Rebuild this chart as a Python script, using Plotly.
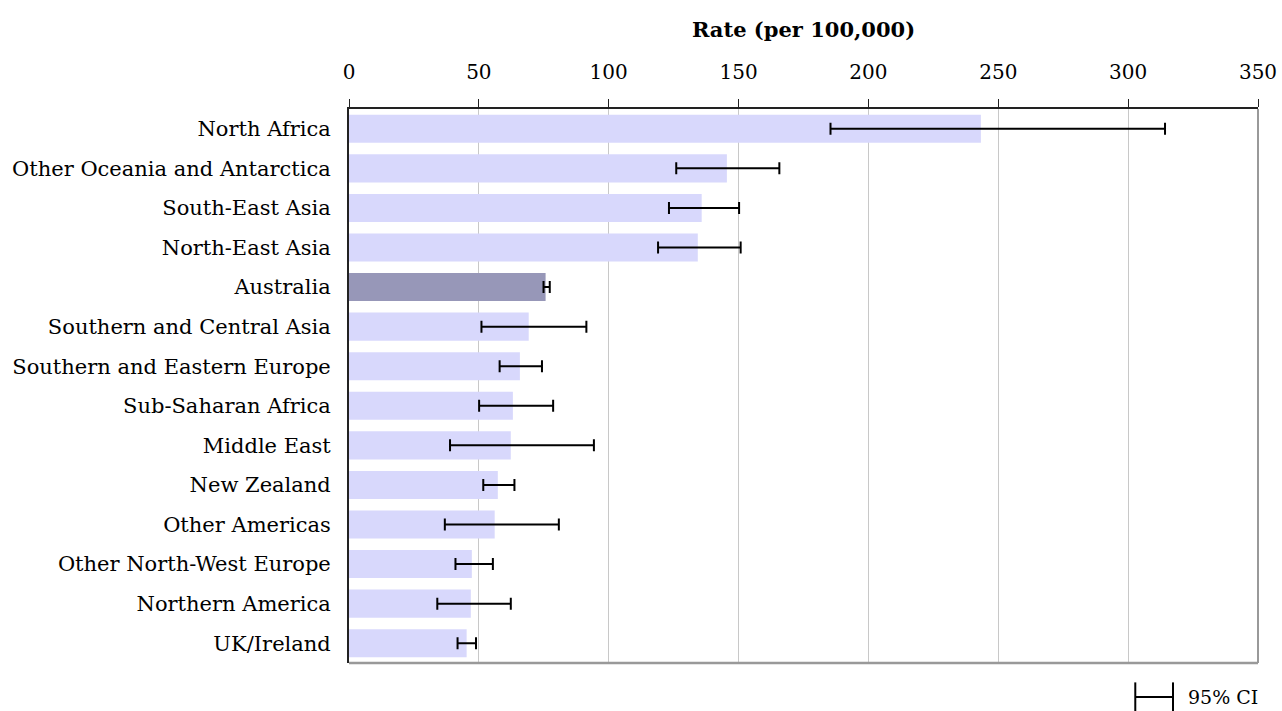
import plotly.graph_objects as go

# Rates per 100,000 by region of birth, with 95% confidence limits
regions = [
    "North Africa",
    "Other Oceania and Antarctica",
    "South-East Asia",
    "North-East Asia",
    "Australia",
    "Southern and Central Asia",
    "Southern and Eastern Europe",
    "Sub-Saharan Africa",
    "Middle East",
    "New Zealand",
    "Other Americas",
    "Other North-West Europe",
    "Northern America",
    "UK/Ireland",
]
rate = [243.3, 145.5, 135.8, 134.3, 75.7, 69.2, 65.8, 63.1, 62.3, 57.3, 56.1, 47.3, 46.9, 45.3]
ci_low = [185.4, 126.0, 123.2, 119.0, 74.9, 51.0, 58.0, 50.1, 38.9, 51.7, 36.9, 41.0, 34.0, 41.8]
ci_high = [314.2, 165.7, 150.2, 150.8, 77.3, 91.4, 74.3, 78.6, 94.3, 63.7, 80.8, 55.4, 62.3, 48.9]
x_ticks = [0, 50, 100, 150, 200, 250, 300, 350]

LIGHT = "#d8d8fc"
DARK = "#9797b8"
FONT = "DejaVu Serif"

colors = [DARK if r == "Australia" else LIGHT for r in regions]
err_plus = [h - v for h, v in zip(ci_high, rate)]
err_minus = [v - l for v, l in zip(rate, ci_low)]

fig = go.Figure(
    go.Bar(
        x=rate,
        y=regions,
        orientation="h",
        marker=dict(color=colors, line=dict(width=0)),
        error_x=dict(
            type="data",
            symmetric=False,
            array=err_plus,
            arrayminus=err_minus,
            color="#000000",
            thickness=2,
            width=6,
        ),
        showlegend=False,
    )
)

fig.update_layout(
    width=1282,
    height=711,
    margin=dict(l=349, r=24, t=109, b=48, autoexpand=False),
    paper_bgcolor="white",
    plot_bgcolor="white",
    bargap=0.29,
    font=dict(family=FONT, size=20, color="#000000"),
    xaxis=dict(
        side="top",
        automargin=False,
        range=[0, 350],
        tickvals=x_ticks,
        ticks="outside",
        ticklen=8,
        tickwidth=1,
        tickcolor="#222222",
        showline=True,
        linecolor="#222222",
        linewidth=1.5,
        showgrid=True,
        gridcolor="#c8c8c8",
        gridwidth=1,
        zeroline=False,
        ticklabelstandoff=12,
        tickfont=dict(family=FONT, size=20),
        title=dict(
            text="<b>Rate (per 100,000)</b>",
            font=dict(family=FONT, size=21),
            standoff=17,
        ),
    ),
    yaxis=dict(
        autorange="reversed",
        automargin=False,
        showline=True,
        linecolor="#222222",
        linewidth=2,
        showgrid=False,
        ticks="",
        ticklabelstandoff=12,
        tickfont=dict(family=FONT, size=21),
    ),
    shapes=[
        # grey frame on the right and bottom of the plot area
        dict(type="line", xref="paper", yref="paper", x0=1, x1=1, y0=0, y1=1,
             line=dict(color="#999999", width=2)),
        dict(type="line", xref="paper", yref="paper", x0=0, x1=1, y0=0, y1=0,
             line=dict(color="#999999", width=2.5)),
        # 95% CI key
        dict(type="line", xref="paper", yref="paper", x0=0.865, x1=0.9065, y0=-0.0614, y1=-0.0614,
             line=dict(color="#000000", width=2)),
        dict(type="line", xref="paper", yref="paper", x0=0.865, x1=0.865, y0=-0.035, y1=-0.088,
             line=dict(color="#000000", width=2)),
        dict(type="line", xref="paper", yref="paper", x0=0.9065, x1=0.9065, y0=-0.035, y1=-0.088,
             line=dict(color="#000000", width=2)),
    ],
    annotations=[
        dict(text="95% CI", xref="paper", yref="paper", x=0.921, y=-0.0614,
             xanchor="left", yanchor="middle", showarrow=False,
             font=dict(family=FONT, size=19)),
    ],
)

fig.write_html("out.html")
